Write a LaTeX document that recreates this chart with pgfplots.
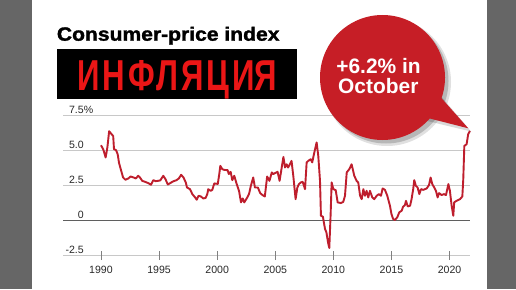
\documentclass[border=0pt]{standalone}
\usepackage{fontspec}
\setmainfont{Liberation Sans}
\usepackage{graphicx}
\usepackage{pgfplots}
\pgfplotsset{compat=1.18}
\definecolor{bordergray}{RGB}{102,102,102}
\definecolor{linered}{RGB}{190,30,45}
\definecolor{bubblered}{RGB}{198,30,38}
\definecolor{textred}{RGB}{235,22,22}
\definecolor{gridgray}{RGB}{200,200,200}
\definecolor{zerogray}{RGB}{95,95,95}
\definecolor{labelgray}{RGB}{40,40,40}
\pgfplotstableread{
yr val
1990.0 5.35
1990.2 5.05
1990.4 4.48
1990.55 5.2
1990.7 6.35
1990.9 6.15
1991.05 6.0
1991.12 5.07
1991.3 5.0
1991.44 4.7
1991.55 4.1
1991.7 3.65
1991.9 3.06
1992.1 2.9
1992.35 2.99
1992.55 3.13
1992.8 3.06
1993.0 2.99
1993.2 3.18
1993.35 3.06
1993.55 2.82
1993.8 2.75
1994.07 2.66
1994.3 2.54
1994.5 2.87
1994.7 2.8
1994.9 2.82
1995.1 2.85
1995.36 3.18
1995.55 2.94
1995.75 2.56
1996.0 2.68
1996.2 2.78
1996.5 2.87
1996.7 2.99
1996.9 3.25
1997.1 3.06
1997.3 2.7
1997.4 2.35
1997.66 2.23
1997.86 1.88
1998.1 1.64
1998.24 1.48
1998.4 1.76
1998.6 1.71
1998.8 1.57
1999.0 1.6
1999.15 1.88
1999.23 2.23
1999.44 2.11
1999.58 2.18
1999.75 2.64
1999.9 2.62
2000.05 2.6
2000.18 3.3
2000.27 3.89
2000.44 3.65
2000.6 3.6
2000.9 3.58
2001.0 3.3
2001.16 3.46
2001.3 2.87
2001.47 3.18
2001.68 2.59
2001.88 2.11
2002.05 1.29
2002.2 1.57
2002.33 1.29
2002.54 1.57
2002.74 1.88
2002.9 2.47
2003.1 3.06
2003.25 2.35
2003.5 2.35
2003.7 1.95
2003.9 1.81
2004.1 1.71
2004.3 3.13
2004.5 2.82
2004.7 3.42
2004.83 3.3
2004.97 3.37
2005.2 3.46
2005.37 2.82
2005.7 4.52
2005.84 3.77
2005.98 4.0
2006.1 3.77
2006.26 4.0
2006.4 4.24
2006.55 3.18
2006.75 1.52
2006.9 2.35
2007.04 2.59
2007.2 2.71
2007.36 2.75
2007.56 2.23
2007.7 4.13
2007.84 4.24
2008.05 4.36
2008.18 4.13
2008.36 4.84
2008.56 5.55
2008.7 4.6
2008.85 2.82
2008.93 0.34
2009.1 0.27
2009.28 -0.6
2009.4 -0.84
2009.55 -1.6
2009.65 -1.95
2009.77 0.58
2009.85 2.71
2010.0 2.23
2010.2 2.16
2010.37 1.29
2010.65 1.24
2010.85 1.33
2011.0 1.76
2011.15 3.42
2011.37 3.65
2011.57 4.0
2011.8 3.18
2012.0 2.82
2012.14 2.71
2012.3 1.76
2012.44 1.52
2012.58 2.23
2012.72 1.76
2012.86 2.11
2013.0 1.64
2013.15 2.11
2013.35 1.64
2013.52 1.52
2013.73 1.76
2013.92 1.88
2014.1 1.76
2014.24 2.28
2014.44 2.18
2014.64 1.76
2014.87 1.05
2015.0 0.46
2015.15 0.1
2015.3 0.04
2015.5 0.23
2015.67 0.58
2015.88 0.7
2016.0 0.98
2016.16 1.1
2016.25 1.4
2016.4 1.0
2016.6 1.05
2016.73 1.52
2016.87 2.23
2016.96 2.87
2017.1 2.47
2017.25 2.35
2017.4 1.88
2017.54 2.23
2017.74 2.18
2018.03 2.28
2018.23 2.52
2018.37 3.06
2018.51 2.59
2018.68 2.35
2018.83 2.11
2018.97 1.64
2019.1 1.95
2019.32 1.81
2019.52 1.88
2019.69 1.81
2019.9 2.59
2020.03 2.11
2020.18 1.05
2020.32 0.34
2020.4 1.29
2020.6 1.4
2020.9 1.52
2021.1 1.71
2021.18 2.94
2021.27 5.3
2021.47 5.43
2021.6 6.13
2021.75 6.37
}\cpidata
\begin{document}
\begin{tikzpicture}[x=1bp,y=1bp]
\fill[white] (0,0) rectangle (516,289);
\fill[bordergray] (0,0) rectangle (32,289);
\fill[bordergray] (487,0) rectangle (516,289);
\begin{axis}[
  at={(63bp,33.3bp)}, anchor=south west,
  scale only axis, width=407bp, height=140.7bp,
  xmin=1986.73, xmax=2021.76, ymin=-2.5, ymax=7.5,
  axis line style={draw=none},
  xtick={1990,1995,2000,2005,2010,2015,2020},
  xticklabels={1990,1995,2000,2005,2010,2015,2020},
  ytick={-2.5,0,2.5,5,7.5},
  yticklabels={-2.5,0,2.5,5.0,7.5\rlap{\%}},
  ymajorgrids, grid style={gridgray, line width=0.9bp},
  xtick pos=bottom, ytick style={draw=none},
  tick align=center, major tick length=9bp,
  xtick style={draw=gray, line width=0.9bp},
  tick label style={font=\fontsize{10.6}{12}\selectfont, text=labelgray},
  /pgf/number format/assume math mode=true,
  yticklabel style={anchor=base east, inner sep=0pt, xshift=25.5bp, yshift=1.8bp},
  xticklabel style={anchor=north, inner sep=0pt, yshift=-5.5bp},
  clip=false,
]
\addplot[zerogray, line width=1.3bp] coordinates {(1986.73,0) (2021.76,0)};
\addplot[linered, line width=1.9bp, line join=round] table[x=yr, y=val] {\cpidata};
\end{axis}
% title and banner
\node[anchor=base west, inner sep=0pt] at (56.7,248.3) {\resizebox{222.6bp}{13.9bp}{\bfseries\addfontfeature{FakeBold=1.5}Consumer-price index}};
\fill[black] (57.3,189.7) rectangle (296.7,240);
\node[anchor=base west, inner sep=0pt, text=textred] at (77.3,199) {\resizebox{199.4bp}{30bp}{\bfseries\addfontfeature{LetterSpace=9}ИНФЛЯЦИ\addfontfeature{LetterSpace=0}Я}};
% bubble shadow
\fill[black, opacity=0.12] (387,207) circle (64);
\fill[black, opacity=0.18] (386,208) circle (62.5);
\fill[black, opacity=0.15] (440,194) -- (471,157.5) -- (423,169) -- cycle;
% bubble
\fill[bubblered] (382.5,211.5) circle (62.5);
\fill[bubblered] (436,197) -- (468.3,160.7) -- (420,173) -- cycle;
\node[anchor=base, inner sep=0pt, text=white, font=\fontsize{21}{24}\selectfont\bfseries] at (378.5,215.7) {+6.2\% in};
\node[anchor=base, inner sep=0pt, text=white, font=\fontsize{21}{24}\selectfont\bfseries] at (378.3,195.5) {October};
\pgfresetboundingbox
\useasboundingbox (0,0) rectangle (516,289);
\end{tikzpicture}
\end{document}
